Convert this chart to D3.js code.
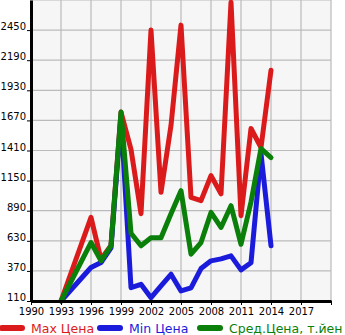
<!DOCTYPE html>
<html><head><meta charset="utf-8">
<script src="https://cdn.jsdelivr.net/npm/d3@7"></script>
<style>body{margin:0;background:#fff;}svg{display:block;font-family:"DejaVu Sans",sans-serif;}</style>
</head><body>
<svg id="c" width="345" height="335"></svg>
<script>
const years = [1993,1996,1997,1998,1999,2000,2001,2002,2003,2004,2005,2006,2007,2008,2009,2010,2011,2012,2013,2014];
const maxPrice = [110,832,470,590,1742,1420,864,2450,1049,1627,2493,1005,977,1193,1036,2690,847,1600,1436,2103];
const minPrice = [110,399,442,570,1700,225,254,139,240,341,197,223,390,457,474,500,379,440,1384,587];
const avgPrice = [110,615,457,587,1742,695,587,656,656,864,1063,514,615,875,745,933,600,965,1427,1349];
const yTicks = [110,370,630,890,1150,1410,1670,1930,2190,2450];
const xTicks = [1990,1993,1996,1999,2002,2005,2008,2011,2014,2017];
const seriesNames = ["Max Цена","Min Цена","Сред.Цена, т.йен"];
const colors = ["#db1b1b","#1b1bdb","#0a7f0a"];

const svg = d3.select("#c");
const L=31, R=331, T=0, B=301;
const x = d3.scaleLinear().domain([1990,2020]).range([L,R]);
const y = d3.scaleLinear().domain([110,2710]).range([B,T]);

svg.append("rect").attr("x",L).attr("y",T).attr("width",R-L).attr("height",B-T).attr("fill","#f6f6f6");
const g = svg.append("g");
g.selectAll(".vg").data(d3.range(1990,2021,3)).join("line")
  .attr("x1",d=>x(d)).attr("x2",d=>x(d)).attr("y1",T).attr("y2",B)
  .attr("stroke","#bbb").attr("stroke-width",1.2);
g.selectAll(".hg").data(yTicks.concat([2710])).join("line")
  .attr("x1",L).attr("x2",R).attr("y1",d=>y(d)).attr("y2",d=>y(d))
  .attr("stroke","#bbb").attr("stroke-width",1.2);

const line = d3.line().x(d=>x(d[0])).y(d=>y(d[1]));
[maxPrice,minPrice,avgPrice].forEach((s,i)=>{
  svg.append("path").datum(years.map((yr,j)=>[yr,s[j]]))
    .attr("d",line).attr("fill","none").attr("stroke",colors[i])
    .attr("stroke-width",5).attr("stroke-linejoin","round").attr("stroke-linecap","round");
});

const yAxis = svg.append("g").attr("transform",`translate(${L},0)`)
  .call(d3.axisLeft(y).tickValues(yTicks).tickSize(4).tickSizeOuter(0).tickFormat(d3.format("d")));
const xAxis = svg.append("g").attr("transform",`translate(0,${B})`)
  .call(d3.axisBottom(x).tickValues(xTicks.concat([2020])).tickSize(4).tickSizeOuter(0).tickFormat(d=>d===2020?"":d));
[yAxis,xAxis].forEach(a=>{
  a.select(".domain").attr("stroke","#000").attr("stroke-width",3);
  a.selectAll(".tick line").attr("stroke","#000").attr("stroke-width",1);
  a.selectAll("text").attr("fill","#000").style("font-size","10px").style("font-family","DejaVu Sans");
});
yAxis.selectAll("text").attr("x",-5).attr("dy","-0.05em");
xAxis.selectAll("text").attr("y",7);

const legX = [0,98,198];
seriesNames.forEach((n,i)=>{
  svg.append("line").attr("x1",legX[i]+2).attr("x2",legX[i]+22).attr("y1",328).attr("y2",328)
    .attr("stroke",colors[i]).attr("stroke-width",6).attr("stroke-linecap","round");
  svg.append("text").attr("x",legX[i]+31).attr("y",332.5).text(n)
    .attr("fill",colors[i]).style("font-size","12.5px").style("font-family","DejaVu Sans");
});
</script>
</body></html>
